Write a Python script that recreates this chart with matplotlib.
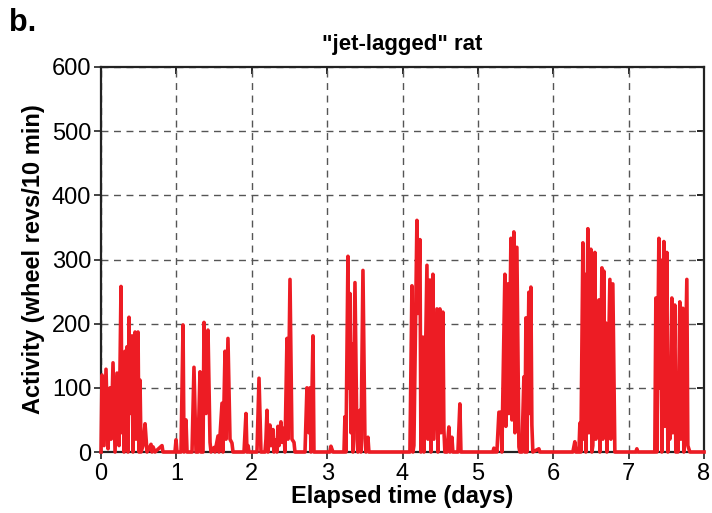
import matplotlib
matplotlib.use('Agg')
import matplotlib.pyplot as plt
from matplotlib import font_manager as fm

# 활동량 데이터 (읽어낸 값): 경과 시간(일), 바퀴 회전수/10분
DAYS = [
    0.000, 0.013, 0.040, 0.066, 0.093, 0.119, 0.133, 0.159, 0.186, 0.212,
    0.239, 0.265, 0.279, 0.292, 0.305, 0.318, 0.332, 0.345, 0.358, 0.371,
    0.385, 0.411, 0.424, 0.451, 0.464, 0.491, 0.504, 0.517, 0.531, 0.557,
    0.584, 0.610, 0.637, 0.663, 0.676, 0.690, 0.716, 0.809, 0.822, 0.981,
    0.995, 1.008, 1.061, 1.088, 1.101, 1.127, 1.141, 1.207, 1.233, 1.260,
    1.286, 1.313, 1.326, 1.353, 1.366, 1.393, 1.419, 1.446, 1.459, 1.499,
    1.512, 1.552, 1.565, 1.605, 1.618, 1.645, 1.658, 1.684, 1.711, 1.737,
    1.751, 1.897, 1.923, 1.936, 1.950, 1.963, 2.069, 2.096, 2.122, 2.175,
    2.188, 2.202, 2.215, 2.241, 2.255, 2.281, 2.294, 2.321, 2.334, 2.347,
    2.361, 2.387, 2.401, 2.427, 2.440, 2.467, 2.480, 2.507, 2.533, 2.560,
    2.573, 2.706, 2.732, 2.759, 2.772, 2.785, 2.812, 2.825, 3.037, 3.050,
    3.077, 3.223, 3.236, 3.249, 3.276, 3.289, 3.302, 3.316, 3.329, 3.342,
    3.369, 3.395, 3.408, 3.422, 3.435, 3.448, 3.475, 3.501, 3.515, 3.541,
    3.554, 4.098, 4.125, 4.138, 4.151, 4.191, 4.204, 4.231, 4.244, 4.271,
    4.284, 4.324, 4.337, 4.363, 4.377, 4.403, 4.416, 4.456, 4.469, 4.496,
    4.509, 4.536, 4.549, 4.562, 4.589, 4.615, 4.629, 4.655, 4.668, 4.735,
    4.761, 4.775, 5.199, 5.212, 5.225, 5.239, 5.252, 5.279, 5.305, 5.318,
    5.358, 5.371, 5.398, 5.411, 5.438, 5.451, 5.477, 5.491, 5.517, 5.544,
    5.557, 5.584, 5.610, 5.623, 5.637, 5.650, 5.676, 5.690, 5.703, 5.716,
    5.729, 5.809, 5.822, 6.260, 6.286, 6.300, 6.340, 6.353, 6.366, 6.393,
    6.406, 6.419, 6.432, 6.459, 6.472, 6.499, 6.512, 6.525, 6.552, 6.565,
    6.578, 6.605, 6.618, 6.645, 6.658, 6.671, 6.684, 6.698, 6.711, 6.751,
    6.764, 6.790, 6.817, 7.095, 7.109, 7.122, 7.347, 7.361, 7.374, 7.401,
    7.414, 7.427, 7.440, 7.467, 7.480, 7.507, 7.520, 7.533, 7.546, 7.573,
    7.586, 7.613, 7.626, 7.639, 7.653, 7.679, 7.692, 7.719, 7.732, 7.772,
    7.785, 7.812, 8.000,
]

ACTIVITY = [
    0, 120, 10, 129, 5, 100, 20, 139, 0, 123,
    10, 258, 30, 130, 0, 157, 20, 164, 0, 210,
    60, 181, 0, 187, 20, 187, 0, 112, 0, 10,
    44, 0, 5, 12, 0, 8, 0, 10, 0, 0,
    19, 0, 0, 198, 0, 50, 0, 0, 132, 0,
    0, 125, 0, 0, 202, 60, 190, 15, 0, 7,
    0, 25, 0, 76, 0, 157, 20, 177, 20, 14,
    0, 0, 60, 0, 10, 0, 0, 115, 0, 0,
    20, 65, 0, 42, 10, 35, 0, 19, 0, 40,
    10, 47, 15, 37, 0, 177, 20, 269, 20, 15,
    0, 0, 100, 30, 100, 0, 181, 0, 0, 9,
    0, 0, 55, 0, 305, 100, 247, 30, 168, 0,
    264, 20, 0, 20, 65, 0, 283, 21, 0, 23,
    0, 0, 259, 0, 10, 361, 216, 331, 0, 179,
    0, 291, 20, 268, 0, 277, 20, 223, 0, 223,
    30, 218, 34, 0, 0, 39, 0, 23, 0, 0,
    75, 0, 0, 6, 0, 5, 0, 62, 62, 0,
    277, 40, 262, 60, 333, 50, 343, 30, 319, 8,
    0, 0, 117, 0, 209, 0, 249, 60, 257, 42,
    0, 5, 0, 0, 16, 0, 0, 45, 0, 326,
    20, 277, 0, 348, 30, 316, 0, 10, 311, 20,
    100, 237, 0, 287, 20, 282, 40, 201, 0, 269,
    20, 262, 0, 0, 5, 0, 0, 240, 0, 333,
    100, 299, 0, 328, 40, 311, 0, 125, 20, 240,
    30, 229, 0, 123, 0, 234, 20, 224, 0, 269,
    10, 0, 0,
]

X_TICKS = list(range(0, 9))
Y_TICKS = list(range(0, 700, 100))

LINE_COLOR = '#ED1C24'
BOLD_FONT = ['Liberation Sans', 'DejaVu Sans']

# 폰트: 좁은 산세리프 우선
installed = {f.name for f in fm.fontManager.ttflist}
if 'Liberation Sans Narrow' in installed:
    FONT = ['Liberation Sans Narrow', 'Liberation Sans', 'DejaVu Sans']
else:
    FONT = ['Liberation Sans', 'DejaVu Sans']
plt.rcParams['font.family'] = FONT


def main():
    fig = plt.figure(figsize=(7.12, 5.13), dpi=100)
    ax = fig.add_axes([0.1419, 0.1189, 0.8469, 0.7505])

    ax.plot(DAYS, ACTIVITY, color=LINE_COLOR, lw=2.6, zorder=3, clip_on=False,
            solid_joinstyle='round')

    ax.set_xlim(0, 8)
    ax.set_ylim(0, 600)
    ax.set_xticks(X_TICKS)
    ax.set_yticks(Y_TICKS)

    ax.grid(True, color='#555555', linestyle=(0, (5, 4)), linewidth=1.0)
    ax.set_axisbelow(True)

    for s in ax.spines.values():
        s.set_linewidth(1.6)
        s.set_color('#222222')

    ax.tick_params(axis='both', direction='out', length=5, width=1.2,
                   labelsize=17, pad=2, color='#222222')
    ax.tick_params(axis='x', pad=3)

    # 위쪽/오른쪽 안쪽 눈금
    top = ax.secondary_xaxis('top')
    top.set_xticks(X_TICKS)
    top.tick_params(direction='in', length=5, width=1.2, labeltop=False)
    top.spines['top'].set_visible(False)
    right = ax.secondary_yaxis('right')
    right.set_yticks(Y_TICKS)
    right.tick_params(direction='in', length=5, width=1.2, labelright=False)
    right.spines['right'].set_visible(False)

    ax.set_xlabel('Elapsed time (days)', fontsize=17, fontweight='bold',
                  family=BOLD_FONT, labelpad=0)
    ax.set_ylabel('Activity (wheel revs/10 min)', fontsize=17, fontweight='bold',
                  family=BOLD_FONT, labelpad=5)
    ax.set_title('"jet-lagged" rat', fontsize=16, fontweight='bold',
                 family=BOLD_FONT, pad=12)

    fig.text(0.013, 0.955, 'b.', fontsize=22, fontweight='bold',
             family=BOLD_FONT, va='center', ha='left')

    fig.savefig('out.png', dpi=100)


if __name__ == '__main__':
    main()
